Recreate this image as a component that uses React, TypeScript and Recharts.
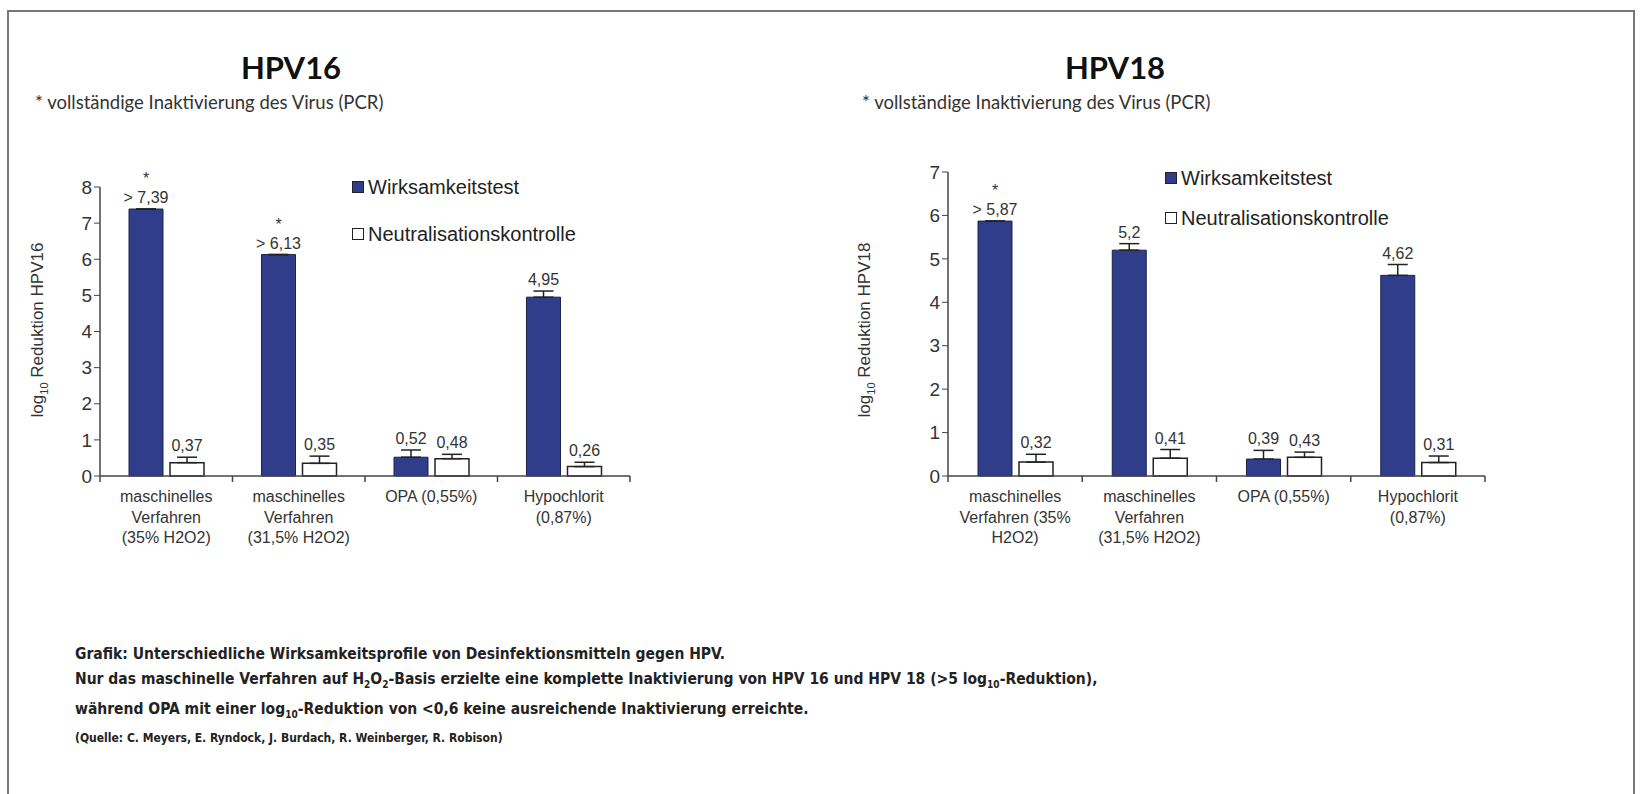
import { BarChart, Bar, XAxis, YAxis, ErrorBar, LabelList } from "recharts";

// Kategorien
const categories16 = ["maschinelles\nVerfahren\n(35% H2O2)", "maschinelles\nVerfahren\n(31,5% H2O2)", "OPA (0,55%)", "Hypochlorit\n(0,87%)"];
const categories18 = ["maschinelles\nVerfahren (35%\nH2O2)", "maschinelles\nVerfahren\n(31,5% H2O2)", "OPA (0,55%)", "Hypochlorit\n(0,87%)"];

// HPV16
const test16 = [7.39, 6.13, 0.52, 4.95];
const testErr16 = [0, 0, 0.2, 0.17];
const ctrl16 = [0.37, 0.35, 0.48, 0.26];
const ctrlErr16 = [0.15, 0.2, 0.12, 0.12];
const complete16 = [true, true, false, false];
const ticks16 = [0, 1, 2, 3, 4, 5, 6, 7, 8];

// HPV18
const test18 = [5.87, 5.2, 0.39, 4.62];
const testErr18 = [0, 0.15, 0.2, 0.25];
const ctrl18 = [0.32, 0.41, 0.43, 0.31];
const ctrlErr18 = [0.18, 0.2, 0.12, 0.15];
const complete18 = [true, false, false, false];
const ticks18 = [0, 1, 2, 3, 4, 5, 6, 7];

const BLUE = "#2f3d8b";
const AXIS = "#444";
const ARIAL = "'Liberation Sans', Arial, sans-serif";
const CALIBRI = "Lato, 'Open Sans', sans-serif";

const buildRows = (cats: string[], t: number[], te: number[], c: number[], ce: number[]) =>
  cats.map((name, i) => ({ name, test: t[i], testErr: [0, te[i]], ctrl: c[i], ctrlErr: [0, ce[i]] }));

const fmt = (v: number) => String(v).replace(".", ",");

function CategoryTick({ x, y, payload, index, band }: any) {
  const lines = String(payload.value).split("\n");
  return (
    <g>
      <line x1={x - band / 2} x2={x - band / 2} y1={y - 8} y2={y - 2} stroke={AXIS} strokeWidth={1.5} />
      {index === 3 && <line x1={x + band / 2} x2={x + band / 2} y1={y - 8} y2={y - 2} stroke={AXIS} strokeWidth={1.5} />}
      <text x={x} y={y + 18} textAnchor="middle" fontFamily={ARIAL} fontSize={16} fill="#333">
        {lines.map((l, i) => (
          <tspan key={i} x={x} dy={i === 0 ? 0 : 20.5}>{l}</tspan>
        ))}
      </text>
    </g>
  );
}

function ValueLabel({ x, y, width, height, value, index, errs, complete }: any) {
  if (value == null) return null;
  const errPx = value > 0 ? (errs[index] * height) / value : 0;
  const cx = x + width / 2;
  const base = y - errPx - 6;
  const done = complete && complete[index];
  return (
    <g>
      {done && (
        <text x={cx} y={base - 19} textAnchor="middle" fontFamily={ARIAL} fontSize={16} fill="#333">*</text>
      )}
      <text x={cx} y={base} textAnchor="middle" fontFamily={ARIAL} fontSize={16} fill="#333">
        {done ? "> " + fmt(value) : fmt(value)}
      </text>
    </g>
  );
}

function LegendBox({ left, top, gap }: { left: number; top: number; gap: number }) {
  const row = { display: "flex", alignItems: "center", fontFamily: ARIAL, fontSize: 20, color: "#222", height: 24, whiteSpace: "nowrap" as const };
  const sq = { width: 10, height: 10, marginRight: 4, border: "1px solid #222" };
  return (
    <div style={{ position: "absolute", left, top }}>
      <div style={row}><span style={{ ...sq, background: BLUE }} />Wirksamkeitstest</div>
      <div style={{ ...row, marginTop: gap }}><span style={{ ...sq, background: "#fff" }} />Neutralisationskontrolle</div>
    </div>
  );
}

function YLabel({ cx, cy, name }: { cx: number; cy: number; name: string }) {
  return (
    <text transform={`translate(${cx},${cy}) rotate(-90)`} textAnchor="middle" fontFamily={ARIAL} fontSize={17} fill="#333">
      log<tspan fontSize={11} dy={5}>10</tspan><tspan dy={-5}> Reduktion {name}</tspan>
    </text>
  );
}

function HpvChart(props: {
  left: number; title: string; titleX: number; subX: number; yLabelX: number; cats: string[];
  t: number[]; te: number[]; c: number[]; ce: number[]; complete: boolean[];
  ticks: number[]; max: number; marginTop: number; plotWidth: number; legendLeft: number; legendTop: number; legendGap: number;
}) {
  const W = 660, H = 560;
  const rows = buildRows(props.cats, props.t, props.te, props.c, props.ce);
  const band = props.plotWidth / props.cats.length;
  return (
    <div style={{ position: "absolute", left: props.left, top: 0, width: W, height: H }}>
      <BarChart width={W} height={H} data={rows} margin={{ top: props.marginTop, right: W - 100 - props.plotWidth, bottom: 0, left: 60 }} barSize={34} barGap={7}>
        <XAxis dataKey="name" interval={0} axisLine={{ stroke: AXIS, strokeWidth: 1.5 }} tickLine={false}
          tick={(p: any) => <CategoryTick {...p} band={band} />} height={84} />
        <YAxis width={40} domain={[0, props.max]} ticks={props.ticks} interval={0}
          axisLine={{ stroke: AXIS, strokeWidth: 1.5 }} tickLine={{ stroke: AXIS }} tickSize={6}
          tick={{ fontFamily: ARIAL, fontSize: 19, fill: "#333" }} />
        <Bar dataKey="test" fill={BLUE} stroke="#1c2350" strokeWidth={1} isAnimationActive={false}>
          <ErrorBar dataKey="testErr" direction="y" width={10} stroke="#222" strokeWidth={1.5} />
          <LabelList dataKey="test" content={(p: any) => <ValueLabel {...p} errs={props.te} complete={props.complete} />} />
        </Bar>
        <Bar dataKey="ctrl" fill="#fff" stroke="#222" strokeWidth={1.5} isAnimationActive={false}>
          <ErrorBar dataKey="ctrlErr" direction="y" width={10} stroke="#222" strokeWidth={1.5} />
          <LabelList dataKey="ctrl" content={(p: any) => <ValueLabel {...p} errs={props.ce} />} />
        </Bar>
      </BarChart>
      <svg style={{ position: "absolute", left: 0, top: 0, pointerEvents: "none" }} width={W} height={H}>
        <YLabel cx={props.yLabelX} cy={330} name={props.title} />
      </svg>
      <LegendBox left={props.legendLeft} top={props.legendTop} gap={props.legendGap} />
      <div style={{ position: "absolute", left: props.titleX - 60, top: 48, width: 120, textAlign: "center", fontFamily: CALIBRI, fontWeight: 700, fontSize: 31, color: "#111" }}>
        {props.title}
      </div>
      <div style={{ position: "absolute", left: props.subX, top: 91, fontFamily: CALIBRI, fontSize: 18.5, color: "#333", whiteSpace: "nowrap" }}>
        * vollständige Inaktivierung des Virus (PCR)
      </div>
    </div>
  );
}

export default function App() {
  return (
    <div style={{ position: "absolute", left: 0, top: 0, width: 1640, height: 794, background: "#fff", overflow: "hidden" }}>
      <div style={{ position: "absolute", left: 7, top: 10, width: 1624, height: 820, border: "2px solid #777" }} />
      <HpvChart left={0} title="HPV16" titleX={291} subX={35} yLabelX={43} cats={categories16}
        t={test16} te={testErr16} c={ctrl16} ce={ctrlErr16} complete={complete16}
        ticks={ticks16} max={8} marginTop={187} plotWidth={530}
        legendLeft={352} legendTop={175} legendGap={23} />
      <HpvChart left={848} title="HPV18" titleX={267} subX={14} yLabelX={22} cats={categories18}
        t={test18} te={testErr18} c={ctrl18} ce={ctrlErr18} complete={complete18}
        ticks={ticks18} max={7} marginTop={172} plotWidth={537}
        legendLeft={317} legendTop={166} legendGap={16} />
      <div style={{ position: "absolute", left: 75, top: 642, fontFamily: "'Liberation Sans Narrow', 'DejaVu Sans Condensed', sans-serif", fontWeight: 700, fontSize: 15.5, lineHeight: "25px", color: "#222" }}>
        <div>Grafik: Unterschiedliche Wirksamkeitsprofile von Desinfektionsmitteln gegen HPV.</div>
        <div>Nur das maschinelle Verfahren auf H<sub style={{ fontSize: 10 }}>2</sub>O<sub style={{ fontSize: 10 }}>2</sub>-Basis erzielte eine komplette Inaktivierung von HPV 16 und HPV 18 (&gt;5 log<sub style={{ fontSize: 10 }}>10</sub>-Reduktion),</div>
        <div>während OPA mit einer log<sub style={{ fontSize: 10 }}>10</sub>-Reduktion von &lt;0,6 keine ausreichende Inaktivierung erreichte.</div>
        <div style={{ fontSize: 12, lineHeight: "22px" }}>(Quelle: C. Meyers, E. Ryndock, J. Burdach, R. Weinberger, R. Robison)</div>
      </div>
    </div>
  );
}
